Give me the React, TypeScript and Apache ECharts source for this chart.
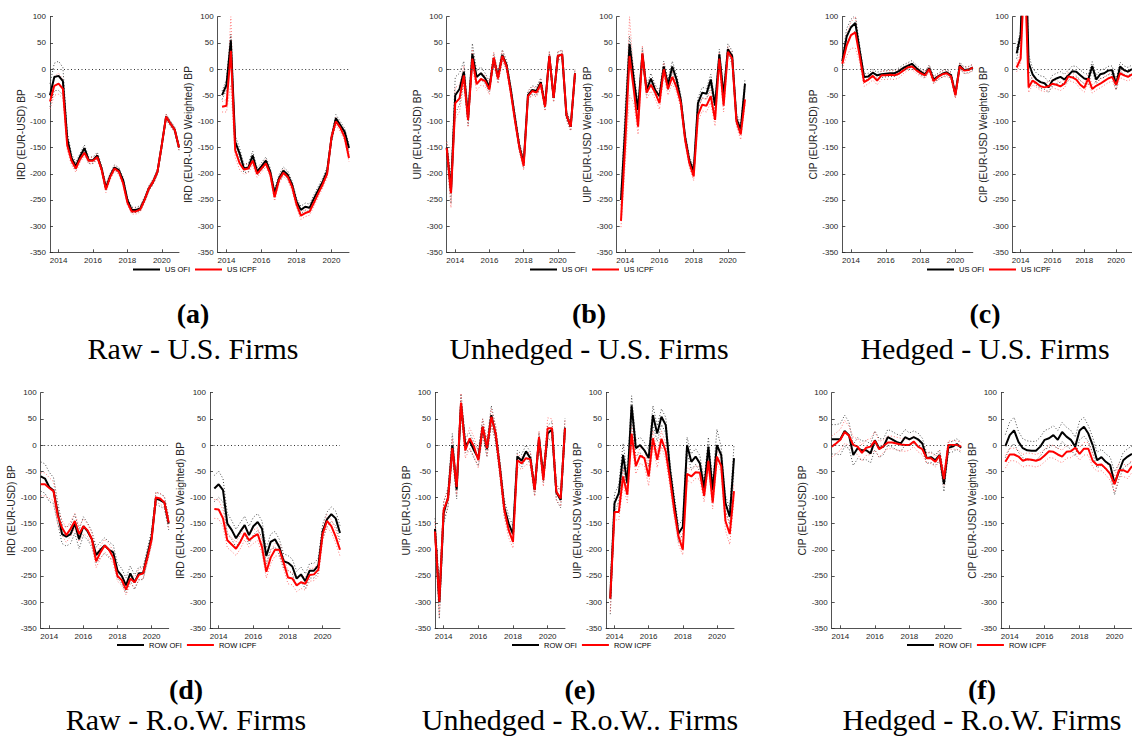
import React, { useEffect, useRef } from "react";
import * as echarts from "echarts";

// Quarter-end dates as decimal years
const quarters = [
  2013.5, 2013.75, 2014, 2014.25, 2014.5, 2014.75, 2015, 2015.25, 2015.5, 2015.75,
  2016, 2016.25, 2016.5, 2016.75, 2017, 2017.25, 2017.5, 2017.75, 2018, 2018.25,
  2018.5, 2018.75, 2019, 2019.25, 2019.5, 2019.75, 2020, 2020.25, 2020.5, 2020.75, 2021,
];
const xTicks = [2014, 2016, 2018, 2020];
const yMin = -350;
const yMax = 100;
const yStep = 50;

type Vals = (number | null)[];

// (a) Raw interest rate differential, U.S. firms
const rawUsOfi: Vals = [-50, -15, -13, -23, -132, -170, -186, -167, -151, -174, -174, -165, -190, -227, -204, -188, -193, -212, -250, -269, -269, -266, -249, -228, -215, -196, -145, -91, -104, -116, -150];
const rawUsIcpf: Vals = [-62, -32, -28, -38, -145, -175, -190, -172, -160, -175, -175, -168, -192, -230, -206, -190, -196, -218, -255, -272, -272, -268, -250, -228, -215, -196, -145, -91, -104, -116, -150];
const rawUsOfiCi = [22, 26, 28, 26, 12, 8, 7, 6, 6, 6, 6, 6, 6, 6, 5, 5, 5, 5, 5, 5, 5, 5, 5, 5, 5, 5, 5, 5, 5, 5, 5];
const rawUsIcpfCi = [14, 18, 20, 18, 10, 8, 7, 6, 6, 6, 6, 6, 6, 6, 5, 5, 5, 5, 5, 5, 5, 5, 5, 5, 5, 5, 5, 5, 5, 5, 5];
const rawUsWOfi: Vals = [null, -50, -30, 55, -139, -161, -190, -188, -165, -196, -186, -175, -196, -237, -209, -194, -202, -221, -253, -269, -263, -265, -247, -231, -215, -195, -132, -94, -107, -120, -151];
const rawUsWIcpf: Vals = [null, -72, -70, 35, -155, -180, -192, -190, -175, -200, -190, -180, -200, -245, -212, -198, -206, -225, -258, -280, -275, -272, -255, -237, -220, -200, -130, -100, -112, -130, -170];
const rawUsWOfiCi = [8, 8, 10, 12, 12, 10, 8, 8, 8, 7, 7, 7, 7, 7, 7, 7, 7, 7, 7, 7, 7, 7, 7, 7, 7, 7, 7, 7, 7, 7, 7];
const rawUsWIcpfCi = [10, 10, 12, 65, 14, 12, 9, 8, 8, 7, 7, 7, 7, 7, 7, 7, 7, 7, 7, 7, 7, 7, 7, 7, 7, 7, 7, 7, 7, 7, 7];

// (b) Unhedged (UIP), U.S. firms
const unhUsOfi: Vals = [-150, -232, -50, -38, -5, -94, 29, -15, -8, -18, -34, 20, -15, 27, 8, -40, -95, -148, -180, -50, -40, -42, -25, -70, 25, -55, 25, 28, -88, -110, -8];
const unhUsIcpf: Vals = [-151, -237, -65, -56, -12, -97, 20, -29, -19, -23, -39, 22, -18, 25, 5, -45, -100, -150, -185, -52, -42, -45, -28, -72, 25, -55, 25, 28, -88, -110, -8];
const unhUsOfiCi = [12, 25, 35, 30, 20, 15, 20, 12, 12, 10, 10, 10, 10, 10, 8, 8, 8, 8, 8, 8, 8, 8, 8, 8, 8, 8, 8, 8, 8, 8, 8];
const unhUsIcpfCi = [12, 28, 30, 25, 18, 14, 18, 12, 12, 10, 10, 10, 10, 10, 8, 8, 8, 8, 8, 8, 8, 8, 8, 8, 8, 8, 8, 8, 8, 8, 8];
const unhUsWOfi: Vals = [null, -250, -110, 48, -20, -78, 28, -40, -18, -40, -52, 5, -30, 5, -20, -60, -130, -175, -195, -65, -45, -47, -20, -70, 28, -50, 38, 25, -95, -115, -28];
const unhUsWIcpf: Vals = [null, -290, -140, 25, -40, -110, 30, -45, -30, -45, -65, 0, -38, -15, -35, -65, -135, -180, -205, -88, -68, -70, -52, -97, 20, -70, 33, 20, -100, -125, -58];
const unhUsWOfiCi = [10, 10, 40, 15, 15, 12, 12, 10, 10, 10, 10, 10, 10, 10, 10, 10, 8, 8, 8, 10, 10, 10, 10, 10, 10, 10, 10, 10, 10, 10, 10];
const unhUsWIcpfCi = [10, 12, 40, 75, 25, 15, 15, 12, 12, 12, 12, 12, 12, 12, 10, 10, 8, 8, 8, 12, 12, 12, 12, 12, 12, 12, 10, 10, 10, 10, 10];

// (c) Hedged (CIP), U.S. firms
const hedUsOfi: Vals = [15, 62, 80, 88, 35, -15, -14, -7, -12, -10, -9, -8, -8, -4, 2, 6, 10, 2, -5, -10, 2, -20, -14, -9, -6, -12, -48, 7, -2, -1, 3];
const hedUsIcpf: Vals = [10, 45, 65, 70, 25, -25, -20, -13, -22, -12, -12, -11, -12, -9, -3, 3, 5, -2, -8, -12, 0, -23, -15, -10, -8, -14, -50, 5, -3, -2, 3];
const hedUsOfiCi = [8, 15, 15, 15, 10, 6, 6, 6, 6, 6, 6, 6, 6, 6, 6, 6, 6, 6, 6, 6, 6, 6, 6, 6, 6, 6, 6, 6, 6, 6, 6];
const hedUsIcpfCi = [10, 20, 25, 30, 12, 8, 8, 8, 8, 8, 8, 8, 8, 8, 6, 6, 6, 6, 6, 6, 6, 6, 6, 6, 6, 6, 6, 6, 6, 6, 6];
const hedUsWOfi: Vals = [null, 30, 65, 300, 12, -10, -20, -25, -27, -35, -22, -18, -15, -20, -12, -4, -5, -12, -18, -20, 6, -20, -10, -8, -3, -2, -30, 5, -2, -5, 0];
const hedUsWIcpf: Vals = [null, 3, 20, 195, -35, -22, -27, -33, -35, -33, -28, -30, -33, -28, -14, -16, -20, -30, -36, -18, -38, -32, -28, -23, -18, -15, -30, -8, -12, -15, -10];
const hedUsWOfiCi = [10, 10, 10, 10, 15, 12, 12, 12, 12, 10, 10, 10, 10, 10, 10, 10, 10, 10, 10, 10, 8, 8, 8, 8, 8, 8, 10, 8, 8, 8, 8];
const hedUsWIcpfCi = [8, 8, 10, 10, 10, 8, 8, 8, 8, 8, 8, 8, 8, 8, 8, 8, 8, 8, 8, 8, 8, 8, 8, 8, 8, 8, 10, 8, 8, 8, 8];

// (d) Raw interest rate differential, rest-of-world firms
const rawRowOfi: Vals = [-60, -64, -80, -87, -130, -170, -175, -170, -150, -180, -155, -165, -180, -210, -200, -192, -200, -205, -240, -250, -268, -245, -262, -245, -245, -210, -175, -102, -105, -110, -150];
const rawRowIcpf: Vals = [-75, -75, -82, -88, -135, -158, -172, -160, -145, -170, -155, -163, -180, -222, -205, -192, -200, -215, -250, -258, -276, -255, -262, -248, -245, -215, -180, -100, -102, -110, -148];
const rawRowOfiCi = [28, 28, 28, 25, 20, 18, 18, 18, 18, 18, 18, 16, 15, 15, 15, 15, 15, 14, 14, 14, 14, 14, 14, 12, 12, 12, 12, 12, 12, 12, 12];
const rawRowIcpfCi = [22, 22, 20, 18, 15, 14, 14, 14, 14, 14, 14, 12, 12, 12, 12, 12, 12, 12, 10, 10, 10, 10, 10, 10, 10, 10, 10, 10, 10, 10, 10];
const rawRowWOfi: Vals = [null, -83, -75, -86, -150, -162, -178, -165, -153, -172, -155, -147, -160, -212, -185, -180, -195, -222, -225, -232, -255, -247, -260, -240, -240, -230, -165, -142, -132, -140, -168];
const rawRowWIcpf: Vals = [null, -122, -123, -140, -182, -190, -198, -185, -168, -182, -175, -170, -195, -242, -215, -200, -200, -225, -253, -255, -268, -262, -265, -248, -247, -238, -170, -145, -155, -175, -200];
const rawRowWOfiCi = [25, 25, 25, 22, 20, 18, 17, 17, 17, 17, 17, 16, 15, 15, 15, 15, 15, 14, 14, 14, 14, 14, 14, 14, 14, 14, 14, 14, 14, 14, 14];
const rawRowWIcpfCi = [18, 18, 18, 16, 14, 13, 13, 13, 13, 13, 13, 12, 12, 12, 12, 12, 12, 12, 12, 12, 12, 12, 12, 12, 12, 12, 12, 12, 12, 12, 12];

// (e) Unhedged (UIP), rest-of-world firms
const unhRowOfi: Vals = [-160, -300, -130, -100, 0, -85, 78, 0, 8, -10, -25, 35, -8, 57, 20, -45, -120, -150, -170, -22, -30, -12, -25, -85, 12, -60, 22, 30, -90, -105, 33];
const unhRowIcpf: Vals = [-165, -299, -124, -102, -6, -80, 81, -10, 13, -3, -29, 35, -6, 54, 22, -48, -124, -162, -185, -29, -35, -25, -27, -86, 15, -67, 32, 32, -89, -102, 32];
const unhRowOfiCi = [20, 32, 20, 18, 22, 18, 20, 15, 15, 15, 15, 15, 15, 18, 15, 15, 15, 15, 15, 12, 12, 12, 12, 12, 12, 12, 15, 15, 15, 15, 18];
const unhRowIcpfCi = [18, 28, 18, 15, 18, 15, 18, 15, 20, 18, 15, 15, 15, 15, 15, 15, 15, 15, 12, 12, 12, 12, 12, 12, 12, 12, 20, 18, 15, 15, 15];
const unhRowWOfi: Vals = [null, -293, -111, -92, -19, -73, 76, -6, 0, -10, -25, 57, 22, 54, 38, -48, -111, -169, -156, 0, -32, -22, -35, -83, -3, -86, 0, -19, -111, -137, -25];
const unhRowWIcpf: Vals = [null, -293, -128, -128, -60, -95, 22, -40, -20, -25, -60, 13, -28, 12, -12, -65, -125, -175, -200, -55, -60, -52, -53, -97, -30, -110, -22, -40, -145, -170, -88];
const unhRowWOfiCi = [20, 30, 18, 16, 22, 18, 18, 15, 15, 15, 15, 18, 15, 15, 15, 15, 15, 15, 15, 15, 15, 15, 15, 15, 18, 15, 30, 15, 15, 15, 25];
const unhRowWIcpfCi = [18, 25, 15, 15, 15, 15, 15, 15, 15, 15, 18, 15, 15, 15, 15, 15, 15, 15, 10, 12, 12, 12, 12, 12, 12, 12, 12, 12, 18, 20, 15];

// (f) Hedged (CIP), rest-of-world firms
const hedRowOfi: Vals = [11, 11, 11, 27, 19, -19, -6, -10, -10, -16, 9, -6, -3, 15, 11, 6, 3, 15, 11, 15, 11, 3, -25, -23, -29, -19, -74, -5, -3, 2, -5];
const hedRowIcpf: Vals = [-3, 3, 10, 25, 18, 0, -3, -15, -5, -3, 8, -8, -2, 5, 5, 3, 1, 0, 0, 7, -3, -8, -25, -25, -32, -20, -65, 0, 0, 0, -3];
const hedRowOfiCi = [28, 28, 30, 30, 25, 20, 20, 18, 18, 18, 18, 18, 15, 15, 15, 15, 15, 15, 12, 12, 12, 10, 10, 10, 10, 10, 15, 10, 10, 10, 10];
const hedRowIcpfCi = [20, 20, 20, 22, 18, 15, 15, 15, 15, 15, 18, 15, 12, 12, 12, 12, 12, 12, 10, 10, 10, 10, 10, 10, 10, 10, 12, 8, 8, 8, 8];
const hedRowWOfi: Vals = [null, -2, 19, 28, 6, -6, -10, -11, -11, -3, 10, 13, 19, 10, 25, 16, 10, -3, 28, 35, 22, 0, -29, -23, -32, -38, -73, -51, -29, -22, -17];
const hedRowWIcpf: Vals = [null, -32, -18, -18, -22, -30, -27, -28, -30, -27, -20, -12, -13, -18, -22, -13, -12, -5, -17, -7, -7, -30, -38, -37, -45, -55, -75, -48, -48, -52, -40];
const hedRowWOfiCi = [20, 22, 25, 25, 20, 18, 18, 18, 18, 18, 18, 18, 18, 18, 18, 18, 18, 18, 18, 18, 15, 15, 15, 15, 15, 15, 22, 15, 15, 15, 15];
const hedRowWIcpfCi = [12, 12, 12, 12, 12, 12, 12, 12, 12, 12, 12, 12, 12, 12, 12, 12, 12, 12, 12, 12, 12, 12, 12, 12, 12, 12, 15, 12, 12, 12, 12];

const usNames = ["US OFI", "US ICPF"];
const rowNames = ["ROW OFI", "ROW ICPF"];

const captionTags = ["(a)", "(b)", "(c)", "(d)", "(e)", "(f)"];
const captionTexts = [
  "Raw - U.S. Firms",
  "Unhedged - U.S. Firms",
  "Hedged - U.S. Firms",
  "Raw - R.o.W. Firms",
  "Unhedged - R.o.W.. Firms",
  "Hedged - R.o.W. Firms",
];

type Panel = {
  left: number;
  width: number;
  row: number;
  yLabel: string;
  labelDist: number;
  ofi: Vals;
  icpf: Vals;
  ofiCi: number[];
  icpfCi: number[];
  names: string[];
};

const panels: Panel[] = [
  { left: 50, width: 129, row: 0, yLabel: "IRD (EUR-USD) BP", labelDist: 25, ofi: rawUsOfi, icpf: rawUsIcpf, ofiCi: rawUsOfiCi, icpfCi: rawUsIcpfCi, names: usNames },
  { left: 217.7, width: 131.3, row: 0, yLabel: "IRD (EUR-USD Weighted) BP", labelDist: 23.4, ofi: rawUsWOfi, icpf: rawUsWIcpf, ofiCi: rawUsWOfiCi, icpfCi: rawUsWIcpfCi, names: usNames },
  { left: 446.7, width: 128.3, row: 0, yLabel: "UIP (EUR-USD) BP", labelDist: 27.7, ofi: unhUsOfi, icpf: unhUsIcpf, ofiCi: unhUsOfiCi, icpfCi: unhUsIcpfCi, names: usNames },
  { left: 616.7, width: 128.3, row: 0, yLabel: "UIP (EUR-USD Weighted) BP", labelDist: 26.7, ofi: unhUsWOfi, icpf: unhUsWIcpf, ofiCi: unhUsWOfiCi, icpfCi: unhUsWIcpfCi, names: usNames },
  { left: 842.3, width: 130.5, row: 0, yLabel: "CIP (EUR-USD) BP", labelDist: 25.6, ofi: hedUsOfi, icpf: hedUsIcpf, ofiCi: hedUsOfiCi, icpfCi: hedUsIcpfCi, names: usNames },
  { left: 1012.7, width: 130.5, row: 0, yLabel: "CIP (EUR-USD Weighted) BP", labelDist: 26, ofi: hedUsWOfi, icpf: hedUsWIcpf, ofiCi: hedUsWOfiCi, icpfCi: hedUsWIcpfCi, names: usNames },
  { left: 40.7, width: 128, row: 1, yLabel: "IRD (EUR-USD) BP", labelDist: 25.7, ofi: rawRowOfi, icpf: rawRowIcpf, ofiCi: rawRowOfiCi, icpfCi: rawRowIcpfCi, names: rowNames },
  { left: 210, width: 130, row: 1, yLabel: "IRD (EUR-USD Weighted) BP", labelDist: 29.7, ofi: rawRowWOfi, icpf: rawRowWIcpf, ofiCi: rawRowWOfiCi, icpfCi: rawRowWIcpfCi, names: rowNames },
  { left: 435, width: 130, row: 1, yLabel: "UIP (EUR-USD) BP", labelDist: 26, ofi: unhRowOfi, icpf: unhRowIcpf, ofiCi: unhRowOfiCi, icpfCi: unhRowIcpfCi, names: rowNames },
  { left: 606, width: 128, row: 1, yLabel: "UIP (EUR-USD Weighted) BP", labelDist: 27, ofi: unhRowWOfi, icpf: unhRowWIcpf, ofiCi: unhRowWOfiCi, icpfCi: unhRowWIcpfCi, names: rowNames },
  { left: 831.7, width: 129.5, row: 1, yLabel: "CIP (EUR-USD) BP", labelDist: 26.7, ofi: hedRowOfi, icpf: hedRowIcpf, ofiCi: hedRowOfiCi, icpfCi: hedRowIcpfCi, names: rowNames },
  { left: 1001, width: 133, row: 1, yLabel: "CIP (EUR-USD Weighted) BP", labelDist: 26, ofi: hedRowWOfi, icpf: hedRowWIcpf, ofiCi: hedRowWOfiCi, icpfCi: hedRowWIcpfCi, names: rowNames },
];

const ROW_TOP = [16.7, 392.7];
const GRID_H = 235.6;
const LEGEND_TOP = [265.5, 641];
const legendSpots = [
  { left: 133, row: 0, names: usNames },
  { left: 530, row: 0, names: usNames },
  { left: 927, row: 0, names: usNames },
  { left: 117, row: 1, names: rowNames },
  { left: 512, row: 1, names: rowNames },
  { left: 907, row: 1, names: rowNames },
];
const captionX = [193, 589, 985, 186, 580, 982];
const TAG_Y = [313, 689];
const TEXT_Y = [348, 719];

const AXIS_COLOR = "#262626";
const SANS = "Liberation Sans";
const SERIF = "Liberation Serif";

const toPoints = (vals: Vals, ci: number[] | null, sign: number) =>
  quarters.flatMap((t, i) => {
    const v = vals[i];
    if (v == null) return [];
    return [[t, ci ? v + sign * ci[i] : v]];
  });

function buildOption(): echarts.EChartsOption {
  const grid: any[] = [];
  const xAxis: any[] = [];
  const yAxis: any[] = [];
  const series: any[] = [];

  panels.forEach((p, k) => {
    grid.push({ left: p.left, top: ROW_TOP[p.row], width: p.width, height: GRID_H, containLabel: false });
    xAxis.push({
      type: "value",
      gridIndex: k,
      min: quarters[0],
      max: quarters[quarters.length - 1],
      axisLine: { show: true, onZero: false, lineStyle: { color: AXIS_COLOR, width: 0.8 } },
      axisTick: { show: true, inside: true, length: 3, customValues: xTicks, lineStyle: { color: AXIS_COLOR, width: 0.8 } },
      axisLabel: { customValues: xTicks, formatter: (v: number) => String(v), fontSize: 8, color: AXIS_COLOR, margin: 4, fontFamily: SANS },
      splitLine: { show: false },
    });
    yAxis.push({
      type: "value",
      gridIndex: k,
      min: yMin,
      max: yMax,
      interval: yStep,
      name: p.yLabel,
      nameLocation: "middle",
      nameRotate: 90,
      nameGap: p.labelDist - 5.5,
      nameTextStyle: { fontSize: 10.3, color: AXIS_COLOR, fontFamily: SANS },
      axisLine: { show: true, onZero: false, lineStyle: { color: AXIS_COLOR, width: 0.8 } },
      axisTick: { show: true, inside: true, length: 3, lineStyle: { color: AXIS_COLOR, width: 0.8 } },
      axisLabel: { fontSize: 8, color: AXIS_COLOR, margin: 4, fontFamily: SANS },
      splitLine: { show: false },
    });

    const base = { type: "line", xAxisIndex: k, yAxisIndex: k, symbol: "none", silent: true, clip: true, animation: false };
    const bandBlack = { color: "#3a3a3a", width: 0.9, type: [1, 2] };
    const bandRed = { color: "#ff6b6b", width: 0.9, type: [1, 2] };

    series.push({ ...base, name: `${p.names[0]} upper`, data: toPoints(p.ofi, p.ofiCi, 1), lineStyle: bandBlack, color: "#3a3a3a", z: 2 });
    series.push({ ...base, name: `${p.names[0]} lower`, data: toPoints(p.ofi, p.ofiCi, -1), lineStyle: bandBlack, color: "#3a3a3a", z: 2 });
    series.push({ ...base, name: `${p.names[1]} upper`, data: toPoints(p.icpf, p.icpfCi, 1), lineStyle: bandRed, color: "#ff6b6b", z: 2 });
    series.push({ ...base, name: `${p.names[1]} lower`, data: toPoints(p.icpf, p.icpfCi, -1), lineStyle: bandRed, color: "#ff6b6b", z: 2 });
    series.push({
      ...base,
      name: p.names[0],
      data: toPoints(p.ofi, null, 0),
      color: "#000000",
      lineStyle: { color: "#000000", width: 2 },
      z: 3,
      markLine: {
        silent: true,
        symbol: "none",
        label: { show: false },
        lineStyle: { color: "#333333", width: 1, type: [1, 2.5] },
        data: [{ yAxis: 0 }],
      },
    });
    series.push({ ...base, name: p.names[1], data: toPoints(p.icpf, null, 0), color: "#ff0000", lineStyle: { color: "#ff0000", width: 2 }, z: 4 });
  });

  const legend = legendSpots.map((l) => ({
    left: l.left,
    top: LEGEND_TOP[l.row],
    padding: 0,
    orient: "horizontal",
    icon: "rect",
    itemWidth: 27,
    itemHeight: 2,
    itemGap: 5,
    selectedMode: false,
    data: l.names,
    textStyle: { fontSize: 7.5, color: "#000", fontFamily: SANS },
  }));

  const graphic: any[] = [];
  captionTags.forEach((tag, i) => {
    const row = i < 3 ? 0 : 1;
    graphic.push({
      type: "text",
      x: captionX[i],
      y: TAG_Y[row],
      silent: true,
      style: { text: tag, fontSize: 28, fontWeight: "bold", fontFamily: SERIF, fill: "#000", textAlign: "center", textVerticalAlign: "middle" },
    });
    graphic.push({
      type: "text",
      x: captionX[i],
      y: TEXT_Y[row],
      silent: true,
      style: { text: captionTexts[i], fontSize: 30, fontFamily: SERIF, fill: "#000", textAlign: "center", textVerticalAlign: "middle" },
    });
  });

  return {
    animation: false,
    backgroundColor: "#ffffff",
    textStyle: { fontFamily: SANS },
    grid,
    xAxis,
    yAxis,
    legend,
    series,
    graphic,
  } as any;
}

export default function App() {
  const ref = useRef<HTMLDivElement>(null);

  useEffect(() => {
    if (!ref.current) return;
    const chart = echarts.init(ref.current, null, { renderer: "svg" });
    chart.setOption(buildOption());
    return () => chart.dispose();
  }, []);

  return (
    <div
      ref={ref}
      style={{ position: "fixed", left: 0, top: 0, width: 1132, height: 738, background: "#fff" }}
    />
  );
}
